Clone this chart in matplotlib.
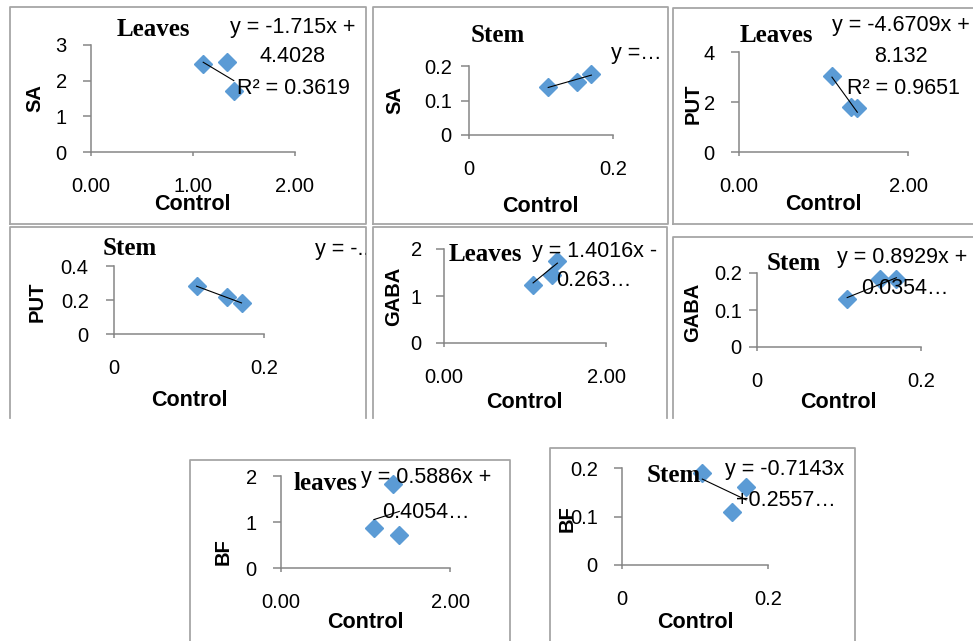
import numpy as np
import matplotlib
matplotlib.use('Agg')
import matplotlib.pyplot as plt
from matplotlib.lines import Line2D
from matplotlib.patches import Rectangle

plt.rcParams['font.family'] = ['Liberation Sans', 'DejaVu Sans']

# control values (x axis), same for every leaves / stem panel
control_leaves = [1.10, 1.33, 1.40]
control_stem = [0.11, 0.15, 0.17]

# treated values (y axis)
sa_leaves = [2.47, 2.53, 1.72]
sa_stem = [0.14, 0.155, 0.178]
put_leaves = [3.06, 1.80, 1.75]
put_stem = [0.28, 0.22, 0.18]
gaba_leaves = [1.23, 1.45, 1.75]
gaba_stem = [0.13, 0.185, 0.185]
bf_leaves = [0.88, 1.82, 0.72]
bf_stem = [0.19, 0.11, 0.16]

# trendline coefficients as printed (None -> label cut off, fit from points)
slopes = [-1.715, None, -4.6709, None, 1.4016, 0.8929, 0.5886, -0.7143]
intercepts = [4.4028, None, 8.132, None, -0.263, 0.0354, 0.4054, 0.2557]

names = ['SA', 'SA', 'PUT', 'PUT', 'GABA', 'GABA', 'BF', 'BF']
titles = ['Leaves', 'Stem', 'Leaves', 'Stem', 'Leaves', 'Stem', 'leaves', 'Stem']
eq_labels = [
    ['y = -1.715x +', '4.4028', 'R² = 0.3619'],
    ['y =…'],
    ['y = -4.6709x +', '8.132', 'R² = 0.9651'],
    ['y = -..'],
    ['y = 1.4016x -', '0.263…'],
    ['y = 0.8929x +', '0.0354…'],
    ['y = 0.5886x +', '0.4054…'],
    ['y = -0.7143x', '+0.2557…'],
]
ytick_vals = [[0, 1, 2, 3], [0, 0.1, 0.2], [0, 2, 4], [0, 0.2, 0.4],
              [0, 1, 2], [0, 0.1, 0.2], [0, 1, 2], [0, 0.1, 0.2]]
xtick_vals = [[0, 1, 2], [0, 0.2], [0, 2], [0, 0.2], [0, 2], [0, 0.2], [0, 2], [0, 0.2]]

xs_all = [control_leaves, control_stem] * 4
ys_all = [sa_leaves, sa_stem, put_leaves, put_stem, gaba_leaves, gaba_stem, bf_leaves, bf_stem]

# ---- layout, in pixels of the 973x641 picture ----
W, H = 973, 641


def fx(x):
    return x / W


def fy(y):
    return 1 - y / H


# panel frames: left, top, right, bottom, closed bottom?
frames = [(10, 7, 366, 224, True), (373, 7, 668, 224, True), (673, 8, 985, 224, True),
          (10, 227, 366, 418, False), (373, 227, 667, 418, False), (673, 237, 985, 418, False),
          (190, 460, 510, 700, False), (550, 448, 855, 700, False)]
# plot areas: left, top, right, bottom
plot_px = [(91, 45, 295, 152), (469, 66, 613, 135), (739, 52, 908, 152), (114, 266, 264, 334),
           (444, 249, 606, 343), (757, 273, 921, 347), (281, 476, 450, 568), (622, 468, 768, 565)]
ypads = [16, 9, 16, 17, 14, 7, 16, 16]
title_pos = [(153, 29), (498, 35), (776, 35), (130, 248), (485, 254), (794, 263), (325, 484), (674, 475)]
eq_pos = [[(293, 27), (293, 56), (293, 88)], [(636, 53)], [(901, 25), (901, 57), (903, 88)],
          [(342, 250)], [(595, 251), (594, 280)], [(902, 258), (905, 288)],
          [(426, 478), (426, 512)], [(785, 469), (786, 500)]]
ylab_pos = [(35, 98), (395, 100), (693, 104), (37, 302), (394, 296), (693, 312), (223, 552), (567, 519)]
xlab_pos = [(192, 205), (540, 206), (823, 205), (189, 401), (524, 402), (838, 402), (365, 623), (695, 623)]

axis_gray = '#868686'
blue = '#5B9BD5'

fig = plt.figure(figsize=(W / 100, H / 100), dpi=100)

for i in range(8):
    x0, y0, x1, y1, closed = frames[i]
    bx = [x0, x0, x1, x1]
    by = [y1, y0, y0, y1]
    if closed:
        bx.append(x0)
        by.append(y1)
    fig.add_artist(Line2D([fx(v) for v in bx], [fy(v) for v in by], color='#A6A6A6', lw=1.3))

    l, t, r, b = plot_px[i]
    ax = fig.add_axes([fx(l), fy(b), (r - l) / W, (b - t) / H])
    xv = np.array(xs_all[i])
    yv = np.array(ys_all[i])
    ax.plot(xv, yv, 'D', color=blue, ms=9.5, zorder=2, clip_on=False)
    if slopes[i] is None:
        m, c = np.polyfit(xv, yv, 1)
    else:
        m, c = slopes[i], intercepts[i]
    lx = np.array([xv.min(), xv.max()])
    ax.plot(lx, m * lx + c, color='black', lw=0.8, zorder=3, clip_on=False)

    yt = ytick_vals[i]
    xt = xtick_vals[i]
    ax.set_ylim(yt[0], yt[-1])
    ax.set_xlim(xt[0], xt[-1])
    ax.set_yticks(yt)
    ax.set_yticklabels(['{:g}'.format(v) for v in yt])
    ax.set_xticks(xt)
    if i % 2 == 0:
        ax.set_xticklabels(['{:.2f}'.format(v) for v in xt])
    else:
        ax.set_xticklabels(['{:g}'.format(v) for v in xt])
    for s in ['top', 'right']:
        ax.spines[s].set_visible(False)
    for s in ['left', 'bottom']:
        ax.spines[s].set_color(axis_gray)
        ax.spines[s].set_linewidth(1.1)
    ax.tick_params(axis='y', length=6, width=1.1, color=axis_gray, labelsize=14.5,
                   pad=ypads[i] * 0.72)
    ax.tick_params(axis='x', length=3, width=1.1, color=axis_gray, labelsize=14.5, pad=15)
    ax.patch.set_alpha(0)

    tx, ty = title_pos[i]
    fig.text(fx(tx), fy(ty), titles[i], ha='center', va='center', fontsize=18,
             fontweight='bold', family='Liberation Serif')
    for s, (ex, ey) in zip(eq_labels[i], eq_pos[i]):
        txt = fig.text(fx(ex), fy(ey), s, ha='center', va='center', fontsize=15.5)
        if i == 3:
            clip = Rectangle((fx(x0), fy(y1)), (x1 - x0) / W, (y1 - y0) / H,
                             transform=fig.transFigure)
            txt.set_clip_path(clip)
    lx_, ly_ = ylab_pos[i]
    fig.text(fx(lx_), fy(ly_), names[i], rotation=90, ha='center', va='center',
             fontsize=14.5, fontweight='bold')
    cx, cy = xlab_pos[i]
    fig.text(fx(cx), fy(cy), 'Control', ha='center', va='center', fontsize=15.5,
             fontweight='bold')

fig.savefig('out.png', dpi=100)
